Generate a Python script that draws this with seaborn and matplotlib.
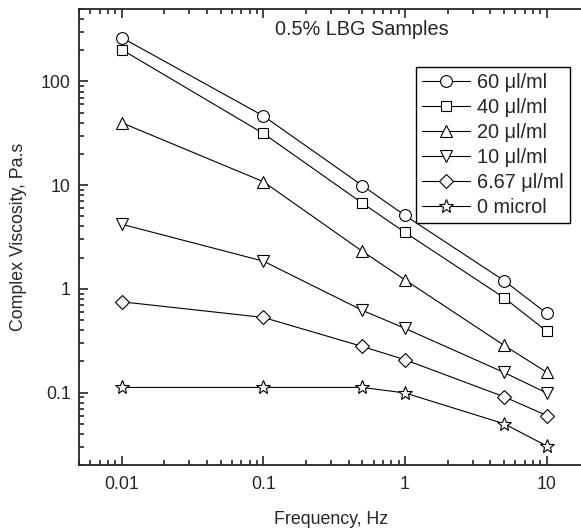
import matplotlib
matplotlib.use('Agg')
import matplotlib.pyplot as plt
import matplotlib.ticker as mticker
import pandas as pd
import seaborn as sns

# frequency (Hz) and complex viscosity (Pa.s)
freq = [0.01, 0.1, 0.5, 1, 5, 10]
visc_60 = [265, 46.5, 9.9, 5.1, 1.2, 0.58]
visc_40 = [203, 31.5, 6.7, 3.5, 0.82, 0.39]
visc_20 = [40, 10.8, 2.3, 1.22, 0.285, 0.157]
visc_10 = [4.2, 1.85, 0.62, 0.415, 0.156, 0.099]
visc_667 = [0.75, 0.53, 0.278, 0.207, 0.091, 0.06]
visc_0 = [0.112, 0.112, 0.112, 0.099, 0.05, 0.0305]
labels = ['60 \u03bcl/ml', '40 \u03bcl/ml', '20 \u03bcl/ml', '10 \u03bcl/ml', '6.67 \u03bcl/ml', '0 microl']
markers = ['o', 's', '^', 'v', 'D', '*']
msizes = [8.5, 7.5, 8.5, 8.5, 7.5, 10]

sns.set_style('ticks')
plt.rcParams['font.family'] = ['Liberation Sans', 'DejaVu Sans']

fig = plt.figure(figsize=(5.81, 5.29), dpi=100)
# right edge of the frame sits just past the picture, as in the original
ax = fig.add_axes([0.136, 0.121, 0.869, 0.862])

series = [visc_60, visc_40, visc_20, visc_10, visc_667, visc_0]
for vals, lab, mk, ms in zip(series, labels, markers, msizes):
    df = pd.DataFrame({'freq': freq, 'visc': vals})
    sns.lineplot(data=df, x='freq', y='visc', ax=ax, color='black', lw=0.8,
                 marker=mk, markersize=ms, markerfacecolor='white',
                 markeredgecolor='black', markeredgewidth=0.8, label=lab)

ax.set_xscale('log')
ax.set_yscale('log')
ax.set_xlim(0.005, 18.3)
ax.set_ylim(0.02, 500)

fmt = mticker.FuncFormatter(lambda v, p: ('%g' % v))
ax.xaxis.set_major_formatter(fmt)
ax.yaxis.set_major_formatter(fmt)
ax.xaxis.set_minor_formatter(mticker.NullFormatter())
ax.yaxis.set_minor_formatter(mticker.NullFormatter())
ax.xaxis.set_minor_locator(mticker.LogLocator(subs=range(2, 10)))
ax.yaxis.set_minor_locator(mticker.LogLocator(subs=range(2, 10)))

ax.tick_params(which='both', direction='in', top=True, right=False, width=1.2)
ax.tick_params(which='major', length=6.5, labelsize=12.8)
ax.tick_params(axis='x', which='major', pad=8)
ax.tick_params(axis='y', which='major', pad=6)
ax.tick_params(which='minor', length=3.5)
for s in ax.spines.values():
    s.set_linewidth(1.3)

ax.set_xlabel('Frequency, Hz', fontsize=12.8, labelpad=13)
ax.set_ylabel('Complex Viscosity, Pa.s', fontsize=12.8, labelpad=10)
ax.text(0.56, 0.956, '0.5% LBG Samples', transform=ax.transAxes, fontsize=14.3,
        ha='center', va='center')

leg = ax.legend(loc='upper right', bbox_to_anchor=(0.972, 0.873), fontsize=14.3,
                frameon=True, fancybox=False, edgecolor='black', framealpha=1,
                handlelength=2.4, handletextpad=0.35, labelspacing=0.3,
                borderpad=0.3, borderaxespad=0)
leg.get_frame().set_linewidth(1.0)

fig.savefig('out.png', dpi=100)
